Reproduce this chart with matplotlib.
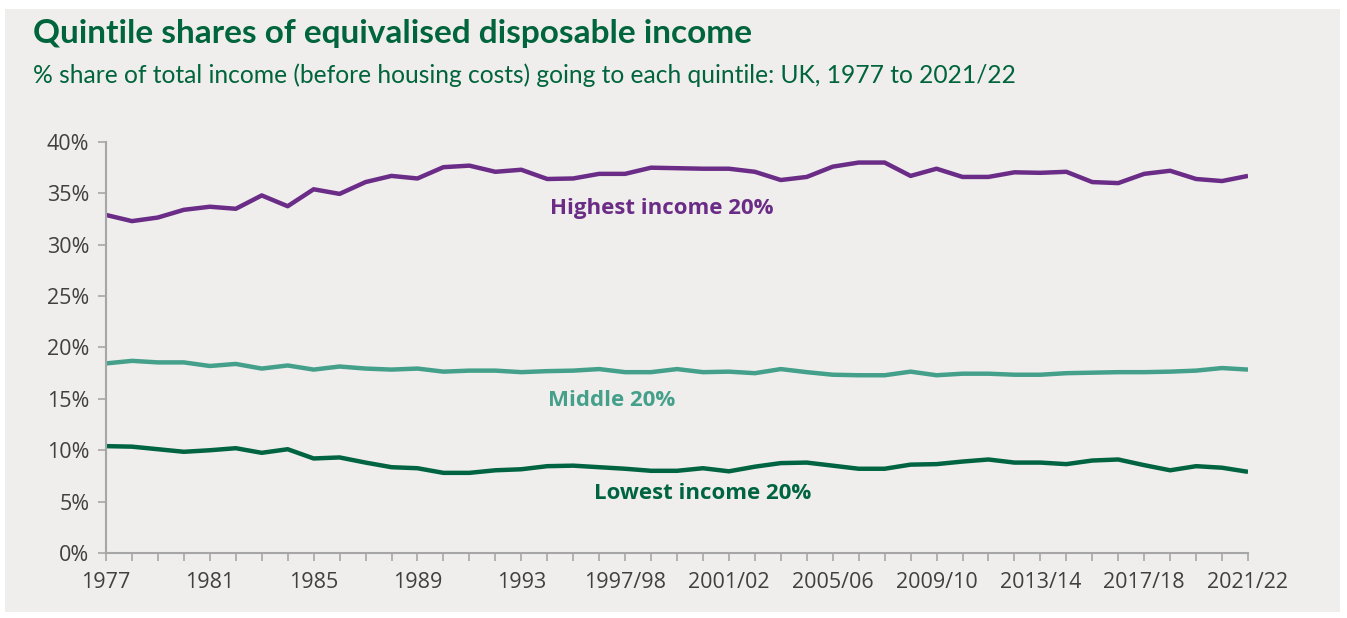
import matplotlib.pyplot as plt
from matplotlib.patches import Rectangle

# Survey years: calendar years to 1993, then financial years
years = [str(y) for y in range(1977, 1994)] + \
        [f"{y}/{str(y + 1)[-2:]}" for y in range(1994, 2022)]

highest = [32.9, 32.3, 32.65, 33.4, 33.7, 33.5, 34.8, 33.75, 35.4, 34.95,
           36.1, 36.7, 36.45, 37.55, 37.7, 37.1, 37.3, 36.4, 36.45, 36.9,
           36.9, 37.5, 37.45, 37.4, 37.4, 37.1, 36.3, 36.6, 37.6, 38.0,
           38.0, 36.7, 37.4, 36.6, 36.6, 37.05, 37.0, 37.1, 36.1, 36.0,
           36.9, 37.2, 36.4, 36.2, 36.7]
middle = [18.45, 18.7, 18.55, 18.55, 18.2, 18.4, 17.95, 18.25, 17.85, 18.15,
          17.95, 17.85, 17.95, 17.65, 17.75, 17.75, 17.6, 17.7, 17.75, 17.9,
          17.6, 17.6, 17.9, 17.6, 17.65, 17.5, 17.9, 17.6, 17.35, 17.3,
          17.3, 17.65, 17.3, 17.45, 17.45, 17.35, 17.35, 17.5, 17.55, 17.6,
          17.6, 17.65, 17.75, 18.0, 17.85]
lowest = [10.4, 10.35, 10.1, 9.85, 10.0, 10.2, 9.75, 10.1, 9.2, 9.3,
          8.8, 8.35, 8.25, 7.8, 7.8, 8.05, 8.15, 8.45, 8.5, 8.35,
          8.2, 8.0, 8.0, 8.25, 7.95, 8.4, 8.75, 8.8, 8.5, 8.2,
          8.2, 8.6, 8.65, 8.9, 9.1, 8.8, 8.8, 8.65, 9.0, 9.1,
          8.55, 8.05, 8.45, 8.3, 7.9]

series = [
    ("Highest income 20%", highest, "#6a2c86", (21.4, 33.5)),
    ("Middle 20%", middle, "#44a08a", (19.5, 14.8)),
    ("Lowest income 20%", lowest, "#006443", (23.0, 5.8)),
]

bg = "#efeeec"
green = "#00643c"
axis_grey = "#a6a6a6"

fig = plt.figure(figsize=(13.47, 6.18), dpi=100, facecolor="white")
fig.patches.append(Rectangle((5 / 1347, 6 / 618), 1335 / 1347, 603 / 618,
                             transform=fig.transFigure, facecolor=bg,
                             edgecolor="none", zorder=-10))

ax = fig.add_axes([106 / 1347, 65 / 618, 1142 / 1347, 411 / 618])
ax.patch.set_alpha(0)

x = list(range(len(years)))
for name, values, colour, (lx, ly) in series:
    ax.plot(x, values, color=colour, lw=3.2, solid_capstyle="butt",
            solid_joinstyle="round")
    ax.text(lx, ly, name, color=colour, fontsize=16, fontweight="bold",
            family="Open Sans", ha="center", va="center")

ax.set_xlim(0, len(years) - 1)
ax.set_ylim(0, 40)
ax.set_xticks(x)
ax.set_xticklabels([y if i % 4 == 0 else "" for i, y in enumerate(years)])
ax.set_yticks(range(0, 41, 5))
ax.set_yticklabels([f"{v}%" for v in range(0, 41, 5)])

for side in ["top", "right"]:
    ax.spines[side].set_visible(False)
for side in ["left", "bottom"]:
    ax.spines[side].set_color(axis_grey)
    ax.spines[side].set_linewidth(1.5)
ax.tick_params(axis="both", colors=axis_grey, labelcolor="#404040",
               labelsize=15.5, length=6, width=1.2)
ax.tick_params(axis="x", pad=8)
ax.tick_params(axis="y", pad=6)
for lbl in ax.get_xticklabels() + ax.get_yticklabels():
    lbl.set_family("Open Sans")

fig.text(33 / 1347, 1 - 33 / 618, "Quintile shares of equivalised disposable income",
         color=green, fontsize=24, fontweight="bold", family="Lato",
         ha="left", va="center")
fig.text(33 / 1347, 1 - 75 / 618,
         "% share of total income (before housing costs) going to each quintile: UK, 1977 to 2021/22",
         color=green, fontsize=17.75, family="Lato", ha="left", va="center")

fig.savefig("out.png", dpi=100, facecolor="white")
